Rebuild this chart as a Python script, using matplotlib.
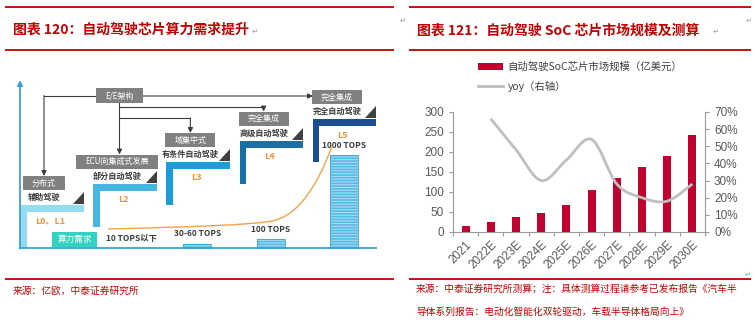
import numpy as np
import matplotlib
matplotlib.use('Agg')
import matplotlib.pyplot as plt
from matplotlib.patches import Rectangle, Polygon, PathPatch
from matplotlib.path import Path
from matplotlib.lines import Line2D
from matplotlib.ticker import MultipleLocator, FuncFormatter
from matplotlib.font_manager import FontProperties

plt.rcParams['font.family'] = ['Liberation Sans', 'Noto Sans CJK SC']
plt.rcParams['hatch.linewidth'] = 0.8
CJK = ['Noto Sans CJK SC', 'DejaVu Sans']
RED = '#c00000'
DARK = '#3c3c3c'
ORANGE = '#f0923a'

# --- left figure: driving level staircase ---
levels = ['L0、L1', 'L2', 'L3', 'L4', 'L5']
arch_names = ['分布式', 'ECU向集成式发展', '域集中式', '完全集成', '完全集成']
driving_names = ['辅助驾驶', '部分自动驾驶', '有条件自动驾驶', '高级自动驾驶', '完全自动驾驶']
step_colors = ['#93dcf2', '#45b6df', '#1b9dd9', '#1a70a6', '#1c4e93']
tops_labels = ['10 TOPS以下', '30-60 TOPS', '100 TOPS', '1000 TOPS']
tops_bar = [0, 4, 9, 93]

# --- right figure: SoC market size ---
years = ['2021', '2022E', '2023E', '2024E', '2025E', '2026E', '2027E', '2028E', '2029E', '2030E']
market = [15, 25, 38, 48, 68, 105, 135, 163, 190, 243]
yoy = [0.66, 0.48, 0.30, 0.42, 0.54, 0.28, 0.20, 0.18, 0.28]

fig = plt.figure(figsize=(7.55, 3.26), dpi=100)
bg = fig.add_axes([0, 0, 1, 1])
bg.set_xlim(0, 755)
bg.set_ylim(326, 0)
bg.axis('off')
renderer = fig.canvas.get_renderer()

# page rules
for xa, xb in [(5, 394), (409, 751)]:
    for y in (7, 50, 279):
        bg.plot([xa, xb], [y, y], color=RED, lw=1.3, solid_capstyle='butt')

bg.text(13, 30, '图表 120：自动驾驶芯片算力需求提升', color=RED, fontsize=10,
        fontweight='bold', family=CJK, va='center')
bg.text(417, 31, '图表 121：自动驾驶 SoC 芯片市场规模及测算', color=RED, fontsize=10,
        fontweight='bold', family=CJK, va='center')
bg.text(13, 291, '来源：亿欧，中泰证券研究所', color=RED, fontsize=7, family=CJK, va='center')
bg.text(416, 288, '来源：中泰证券研究所测算；注：具体测算过程请参考已发布报告《汽车半',
        color=RED, fontsize=7, family=CJK, va='center')
bg.text(416, 312, '导体系列报告：电动化智能化双轮驱动，车载半导体格局向上》',
        color=RED, fontsize=7, family=CJK, va='center')
for px, py in [(252, 31), (400, 20), (713, 31), (746, 20), (745, 274)]:
    bg.text(px, py, '↵', color='#a0a0a0', fontsize=5.5, va='center', family=['DejaVu Sans'])


def boxed(x, y, s, face, size, padx, h):
    t = bg.text(x, y, s, color='white', fontsize=size, family=CJK,
                ha='center', va='center', zorder=5)
    bb = t.get_window_extent(renderer)
    w = bb.width + 2 * padx
    bg.add_patch(Rectangle((x - w / 2, y - h / 2), w, h, color=face, lw=0, zorder=4))


def elbow(points):
    xs, ys = zip(*points)
    if len(points) > 2:
        bg.plot(xs[:-1], ys[:-1], color=DARK, lw=0.8, zorder=3)
    bg.annotate('', xy=points[-1], xytext=points[-2], zorder=3,
                arrowprops=dict(arrowstyle='-|>,head_length=0.3,head_width=0.15',
                                color=DARK, lw=0.8, shrinkA=0, shrinkB=0))


step_dx, step_dy = 73.2, 21.5
box_centers = []
for i, lv in enumerate(levels):
    x0 = 20 + step_dx * i
    top = 205 - step_dy * i
    c = step_colors[i]
    bg.add_patch(Rectangle((x0, top), 63.5, 7, color=c, lw=0, zorder=2))
    bg.add_patch(Rectangle((x0, top), 6.5, 43, color=c, lw=0, zorder=2))
    xe = x0 + 63.5
    bg.add_patch(Polygon([(xe - 11, top - 1), (xe, top - 1), (xe, top - 13)],
                         color='#404040', lw=0, zorder=2))
    bg.text(x0 + 24, top - 7.5, driving_names[i], color=DARK, fontsize=5.9,
            fontweight='bold', family=CJK, ha='center', va='center')
    boxed(x0 + 24, top - 22, arch_names[i], '#808080', 5.8, 9, 14)
    box_centers.append((x0 + 24, top - 22))
    bg.text(x0 + 30, top + 16, lv, color=ORANGE, fontsize=6.5,
            fontweight='bold', family=CJK, ha='center', va='center')

# E/E architecture connectors
boxed(119.5, 95.5, 'E/E架构', '#808080', 5.8, 9, 15)
elbow([(96, 95.5), (box_centers[0][0], 95.5), (box_centers[0][0], box_centers[0][1] - 7)])
elbow([(119.5, 103), (119.5, box_centers[1][1] - 7)])
elbow([(119.5, 107), (box_centers[3][0], 107), (box_centers[3][0], box_centers[3][1] - 7)])
elbow([(119.5, 118), (box_centers[2][0], 118), (box_centers[2][0], box_centers[2][1] - 7)])
elbow([(143, 96), (313, 96)])

# compute demand bars and labels
for j, lab in enumerate(tops_labels):
    x0 = 20 + step_dx * (j + 1)
    cx = x0 + 31
    h = tops_bar[j]
    if h > 0:
        bg.add_patch(Rectangle((cx - 14, 248 - h), 28, h, facecolor='#58b9e4',
                               edgecolor='#a8dcf3', hatch='------', lw=0, zorder=2))
        bg.add_patch(Rectangle((cx - 14, 248 - h), 28, h, fill=False,
                               edgecolor='#3aa6dc', lw=0.6, zorder=2))
        lx = cx
    else:
        lx = cx + 7
    bg.text(lx, 248 - h - 10, lab, color=DARK, fontsize=6, fontweight='bold',
            family=CJK, ha='center', va='center')

# growth curve
verts = [(108, 229), (190, 227), (250, 225), (272, 221), (298, 216), (318, 185), (332, 146)]
codes = [Path.MOVETO] + [Path.CURVE4] * 6
bg.add_patch(PathPatch(Path(verts, codes), fill=False, edgecolor='#f7a14a', lw=1.0, zorder=3))

bg.add_patch(Rectangle((52, 232), 45, 15, color='#33d3c1', lw=0, zorder=3))
bg.text(74.5, 239.5, '算力需求', color='white', fontsize=6.2, family=CJK,
        ha='center', va='center', zorder=4)

bg.plot([20, 376], [248, 248], color='#3aa0dc', lw=1.3, zorder=3)
bg.annotate('', xy=(20, 80), xytext=(20, 248.6), zorder=3,
            arrowprops=dict(arrowstyle='-|>,head_length=0.3,head_width=0.15',
                            color='#3aa0dc', lw=1.3, shrinkA=0, shrinkB=0))

# --- right chart ---
AX_GRAY = '#9a9a9a'
TXT = '#595959'
ax = fig.add_axes([453 / 755, 94 / 326, 252 / 755, 120 / 326])
x = np.arange(len(years))
bars = ax.bar(x, market, width=0.32, color='#c0002f', zorder=2)
ax.set_xlim(-0.5, len(years) - 0.5)
ax.set_ylim(0, 300)
ax.yaxis.set_major_locator(MultipleLocator(50))
ax.set_xticks(x)
ax.set_xticklabels(years, rotation=45, ha='right', rotation_mode='anchor')
ax.set_xticks(np.arange(-0.5, len(years)), minor=True)
ax.tick_params(axis='x', which='major', length=0, pad=5, labelsize=8.5, labelcolor=TXT)
ax.tick_params(axis='x', which='minor', length=3, color=AX_GRAY, width=0.8)
ax.tick_params(axis='y', length=3, color=AX_GRAY, width=0.8, labelsize=8.5, labelcolor=TXT)
for s in ('top', 'right'):
    ax.spines[s].set_visible(False)
for s in ('left', 'bottom'):
    ax.spines[s].set_color(AX_GRAY)
    ax.spines[s].set_linewidth(0.8)

ax2 = ax.twinx()
ax2.set_ylim(0, 0.7)
ax2.yaxis.set_major_locator(MultipleLocator(0.1))
ax2.yaxis.set_major_formatter(FuncFormatter(lambda v, _: f'{v:.0%}'))
ax2.tick_params(axis='y', length=3, color=AX_GRAY, width=0.8, labelsize=8.5, labelcolor=TXT)
for s in ('top', 'left', 'bottom'):
    ax2.spines[s].set_visible(False)
ax2.spines['right'].set_color(AX_GRAY)
ax2.spines['right'].set_linewidth(0.8)

# smoothed yoy line built from bezier segments through the data points
px = x[1:].astype(float)
py = np.array(yoy)
pts = np.column_stack([px, py])
ext = np.vstack([pts[0], pts, pts[-1]])
verts = [tuple(pts[0])]
for k in range(len(pts) - 1):
    p0, p1, p2, p3 = ext[k], ext[k + 1], ext[k + 2], ext[k + 3]
    verts += [tuple(p1 + (p2 - p0) / 6), tuple(p2 - (p3 - p1) / 6), tuple(p2)]
codes = [Path.MOVETO] + [Path.CURVE4] * (len(verts) - 1)
ax2.add_patch(PathPatch(Path(verts, codes), fill=False, edgecolor='#bfbfbf', lw=2,
                        capstyle='butt', joinstyle='round'))

line_handle = Line2D([], [], color='#bfbfbf', lw=2)
fig.legend([bars, line_handle], ['自动驾驶SoC芯片市场规模（亿美元）', 'yoy（右轴）'],
           loc='upper left', bbox_to_anchor=(478 / 755, 1 - 62 / 326),
           frameon=False, prop=FontProperties(family=CJK, size=7.5), labelcolor='#404040',
           handlelength=2.4, handleheight=0.7, handletextpad=0.45, labelspacing=0.8,
           borderpad=0, borderaxespad=0)

fig.savefig('out.png', dpi=100)
